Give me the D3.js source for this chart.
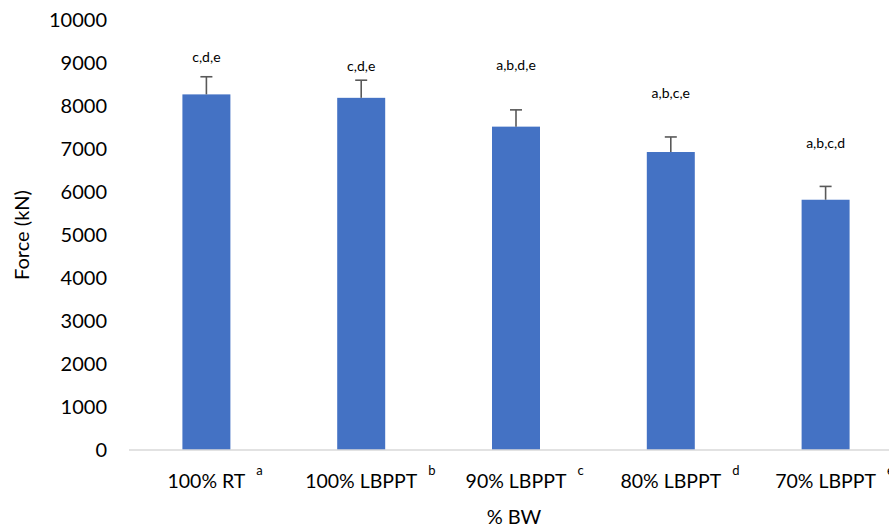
<!DOCTYPE html>
<html>
<head>
<meta charset="utf-8">
<script src="https://cdn.jsdelivr.net/npm/d3@7"></script>
<style>
  body { margin: 0; background: #fff; }
  text { font-family: Lato, "Open Sans", sans-serif; fill: #000; }
</style>
</head>
<body>
<div id="main"></div>
<script>
// chart data
var groups = ["100% RT", "100% LBPPT", "90% LBPPT", "80% LBPPT", "70% LBPPT"];
var groupSup = ["a", "b", "c", "d", "e"];
var force = [8270, 8190, 7520, 6930, 5820];
var forceSD = [410, 410, 390, 350, 310];
var sigLetters = ["c,d,e", "c,d,e", "a,b,d,e", "a,b,c,e", "a,b,c,d"];
var sigAt = [9140, 8930, 8950, 8300, 7140];   // where Excel put each letter box
var yTicks = [0, 1000, 2000, 3000, 4000, 5000, 6000, 7000, 8000, 9000, 10000];

var W = 889, H = 529;
var margin = {top: 20, right: -14, bottom: 79, left: 129},
    width = W - margin.left - margin.right,
    height = H - margin.top - margin.bottom;

var svg = d3.select("#main")
    .append("svg")
    .attr("width", W)
    .attr("height", H)
    .append("g")
    .attr("transform", "translate(" + margin.left + "," + margin.top + ")");

var xScale = d3.scaleBand()
    .domain(groups)
    .range([0, width])
    .paddingInner(0.69)
    .paddingOuter(0.345);

var yScale = d3.scaleLinear()
    .domain([0, 10000])
    .range([height, 0]);

// y tick labels (no axis line, no gridlines)
svg.selectAll(".ytick")
    .data(yTicks)
    .enter().append("text")
    .attr("class", "ytick")
    .attr("x", -22)
    .attr("y", function(d) { return yScale(d); })
    .attr("dy", "0.35em")
    .style("text-anchor", "end")
    .style("font-size", "20px")
    .text(function(d) { return d; });

// bars
svg.selectAll(".bar")
    .data(force)
    .enter().append("rect")
    .attr("class", "bar")
    .attr("x", function(d, i) { return xScale(groups[i]); })
    .attr("width", xScale.bandwidth())
    .attr("y", function(d) { return yScale(d); })
    .attr("height", function(d) { return height - yScale(d); })
    .style("fill", "#4472c4");

// error bars (upper only)
var err = svg.selectAll(".err")
    .data(force)
    .enter().append("g")
    .attr("class", "err")
    .attr("transform", function(d, i) {
      return "translate(" + (xScale(groups[i]) + xScale.bandwidth() / 2) + ",0)";
    });

err.append("line")
    .attr("x1", 0).attr("x2", 0)
    .attr("y1", function(d) { return yScale(d); })
    .attr("y2", function(d, i) { return yScale(d + forceSD[i]); })
    .style("stroke", "#595959")
    .style("stroke-width", 1.6);

err.append("line")
    .attr("x1", -6).attr("x2", 6)
    .attr("y1", function(d, i) { return yScale(d + forceSD[i]); })
    .attr("y2", function(d, i) { return yScale(d + forceSD[i]); })
    .style("stroke", "#595959")
    .style("stroke-width", 1.6);

// significance letters
svg.selectAll(".sig")
    .data(sigLetters)
    .enter().append("text")
    .attr("class", "sig")
    .attr("x", function(d, i) { return xScale(groups[i]) + xScale.bandwidth() / 2; })
    .attr("y", function(d, i) { return yScale(sigAt[i]); })
    .attr("dy", "0.35em")
    .style("text-anchor", "middle")
    .style("font-size", "14px")
    .text(function(d) { return d; });

// x axis baseline
svg.append("line")
    .attr("x1", 0).attr("x2", width)
    .attr("y1", height).attr("y2", height)
    .style("stroke", "#d9d9d9")
    .style("stroke-width", 1.5);

// category labels with superscript letters
var cat = svg.selectAll(".cat")
    .data(groups)
    .enter().append("g")
    .attr("class", "cat")
    .attr("transform", function(d) {
      return "translate(" + (xScale(d) + xScale.bandwidth() / 2) + "," + (height + 38) + ")";
    });

cat.append("text")
    .style("text-anchor", "middle")
    .style("font-size", "19.5px")
    .text(function(d) { return d; });

cat.append("text")
    .attr("x", function() {
      var w = this.parentNode.firstChild.getComputedTextLength();
      return w / 2 + 11;
    })
    .attr("y", -13)
    .style("font-size", "13px")
    .text(function(d, i) { return groupSup[i]; });

// axis titles
svg.append("text")
    .attr("x", 514 - margin.left)
    .attr("y", height + 74)
    .style("text-anchor", "middle")
    .style("font-size", "20px")
    .text("% BW");

svg.append("text")
    .attr("transform", "translate(" + (29 - margin.left) + "," + (235 - margin.top) + ") rotate(-90)")
    .style("text-anchor", "middle")
    .style("font-size", "20px")
    .text("Force (kN)");
</script>
</body>
</html>
